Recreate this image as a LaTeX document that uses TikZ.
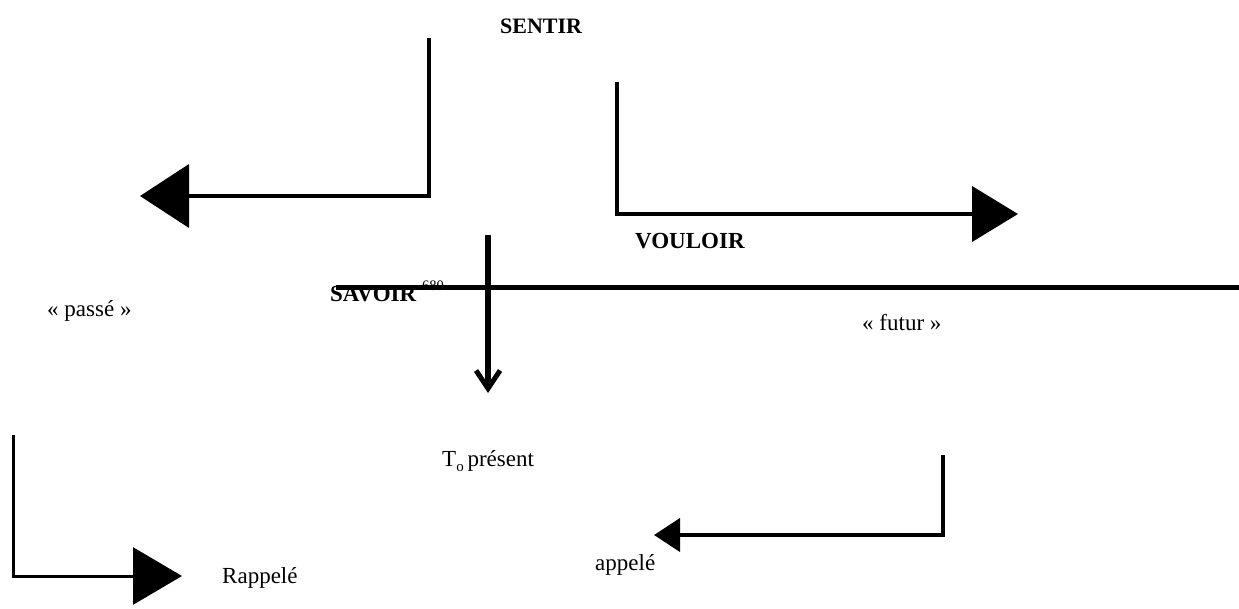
\documentclass[tikz,border=0pt]{standalone}
\usepackage{fontspec}
\setmainfont{Liberation Serif}
\usetikzlibrary{arrows.meta}
\tikzset{
  lbl/.style={anchor=base west, inner sep=0pt, font=\fontsize{23}{27}\selectfont},
  blbl/.style={lbl, font=\fontsize{23}{27}\selectfont\bfseries},
  elbow/.style={line width=4pt, miter limit=10},
}
\begin{document}
\begin{tikzpicture}[x=1pt,y=-1pt]
\useasboundingbox (0,0) rectangle (1239,608);
% texts
\node[blbl, font=\fontsize{22}{26}\selectfont\bfseries] (sentir) at (500,33) {SENTIR};
\node[blbl] (vouloir) at (635,248) {VOULOIR};
\node[blbl] (savoir) at (330,301) {SAVOIR};
\node[lbl, font=\fontsize{14.5}{16}\selectfont] (sup) at (422,290) {680};
\node[lbl] (passe) at (47,316) {« passé »};
\node[lbl] (futur) at (862,330) {« futur »};
\node[lbl] (present) at (442,466) {T\raisebox{-5pt}{\fontsize{15}{16}\selectfont o}\,présent};
\node[lbl] (rappele) at (222,583) {Rappelé};
\node[lbl] (appele) at (595,570) {appelé};
% coordinates
\coordinate (a1) at (429,38);
\coordinate (a2) at (429,196);
\coordinate (a3) at (140,196);
\coordinate (b1) at (617,82);
\coordinate (b2) at (617,214);
\coordinate (b3) at (1018,214);
\coordinate (c1) at (13,435);
\coordinate (c2) at (13,576);
\coordinate (c3) at (182,576);
\coordinate (d1) at (943,455);
\coordinate (d2) at (943,535);
\coordinate (d3) at (654,535);
\coordinate (v1) at (488,235);
\coordinate (v2) at (488,393);
\coordinate (h1) at (336,287);
\coordinate (h2) at (1239,287);
% connectors
\draw[elbow, -{Triangle[length=49pt,width=63pt]}] (a1) -- (a2) -- (a3);
\draw[elbow, -{Triangle[length=46pt,width=55pt]}] (b1) -- (b2) -- (b3);
\draw[elbow, line width=3pt, -{Triangle[length=49pt,width=57pt]}] (c1) -- (c2) -- (c3);
\draw[elbow, -{Triangle[length=26pt,width=33pt]}] (d1) -- (d2) -- (d3);
\draw[line width=5pt] (h1) -- (h2);
\draw[line width=6pt, -{Straight Barb[length=18pt,width=24pt,line width=5pt]}] (v1) -- (v2);
\end{tikzpicture}
\end{document}
